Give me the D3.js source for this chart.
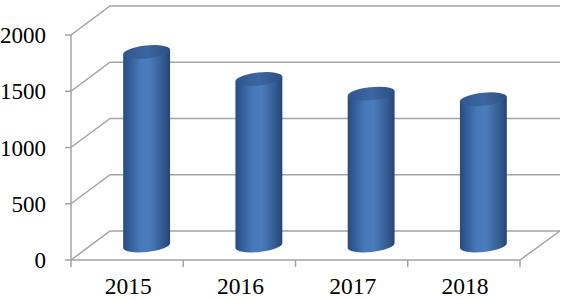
<!DOCTYPE html>
<html>
<head>
<meta charset="utf-8">
<script src="https://cdn.jsdelivr.net/npm/d3@7"></script>
<style>
  html, body { margin:0; padding:0; background:#fff; }
  svg { display:block; }
  text { font-family: 'Liberation Serif', 'DejaVu Serif', serif; fill: #000; }
</style>
</head>
<body>
<div id="chart"></div>
<script>
// Data
const years = ['2015', '2016', '2017', '2018'];
const values = [1720, 1480, 1350, 1300];
const yTicks = [0, 500, 1000, 1500, 2000];

const W = 565, H = 300;
const depth = { dx: 39, dy: -29 };   // 3D wall offset
const gridColor = '#a3a3a3';
const tilt = -6;                      // ellipse tilt in degrees

const svg = d3.select('#chart').append('svg').attr('width', W).attr('height', H);

const y = d3.scaleLinear().domain([0, 2000]).range([260, 35]);
const x = d3.scaleBand().domain(years).range([71, 520]).padding(0);

// gradient for cylinder body
const defs = svg.append('defs');
const grad = defs.append('linearGradient').attr('id', 'cyl').attr('x1', 0).attr('x2', 1).attr('y1', 0).attr('y2', 0);
[[0, '#284b82'], [0.35, '#4677b7'], [0.55, '#4b7dbe'], [0.85, '#345a91'], [1, '#254475']]
  .forEach(([o, c]) => grad.append('stop').attr('offset', o).attr('stop-color', c));
const gradTop = defs.append('linearGradient').attr('id', 'cylTop').attr('x1', 0).attr('x2', 1).attr('y1', 0).attr('y2', 0);
[[0, '#2f5590'], [0.5, '#3d66a0'], [1, '#2c4f86']]
  .forEach(([o, c]) => gradTop.append('stop').attr('offset', o).attr('stop-color', c));

// back wall gridlines (diagonal on left wall + horizontal on back wall)
const x0 = x.range()[0], x1 = x.range()[1];
const backRight = 560;
const grid = svg.append('g').attr('fill', 'none').attr('stroke', gridColor).attr('stroke-width', 1.5);
yTicks.forEach(t => {
  grid.append('path').attr('d',
    `M${x0},${y(t)} L${x0 + depth.dx},${y(t) + depth.dy} L${backRight},${y(t) + depth.dy}`);
});
// floor right edge and front edge
grid.append('path').attr('d', `M${backRight},${y(0) + depth.dy} L${x1},${y(0)} L${x0},${y(0)}`);

// y axis line and ticks
const axis = svg.append('g').attr('stroke', gridColor).attr('stroke-width', 1.5);
axis.append('line').attr('x1', x0).attr('x2', x0).attr('y1', y(2000)).attr('y2', y(0) + 7);
yTicks.forEach(t => axis.append('line').attr('x1', x0 - 6).attr('x2', x0).attr('y1', y(t)).attr('y2', y(t)));
// x ticks at category boundaries
years.forEach(d => {
  const bx = x(d) + x.bandwidth();
  axis.append('line').attr('x1', bx).attr('x2', bx).attr('y1', y(0)).attr('y2', y(0) + 7);
});

// y labels
svg.append('g').selectAll('text').data(yTicks).join('text')
  .attr('x', 46).attr('y', d => y(d)).attr('dy', '0.35em')
  .attr('text-anchor', 'end').attr('font-size', 23)
  .text(d => d);

// x labels
svg.append('g').selectAll('text').data(years).join('text')
  .attr('x', d => x(d) + x.bandwidth() / 2 + 1).attr('y', 294)
  .attr('text-anchor', 'middle').attr('font-size', 23.5)
  .text(d => d);

// cylinders
const rx = x.bandwidth() * 0.21, ry = 6.5;
const rad = tilt * Math.PI / 180;
const ox = rx * Math.cos(rad), oy = rx * Math.sin(rad);
const cyl = svg.append('g').selectAll('g').data(years.map((d, i) => ({ year: d, v: values[i] }))).join('g');
cyl.each(function(d) {
  const g = d3.select(this);
  const cx = x(d.year) + x.bandwidth() / 2 + depth.dx / 2;
  const yb = y(0) + depth.dy / 2;
  const yt = y(d.v) + depth.dy / 2;
  g.append('path')
    .attr('d', `M${cx - ox},${yt - oy} L${cx - ox},${yb - oy} A${rx},${ry} ${tilt} 0 0 ${cx + ox},${yb + oy} L${cx + ox},${yt + oy} Z`)
    .attr('fill', 'url(#cyl)');
  g.append('ellipse').attr('cx', cx).attr('cy', yt).attr('rx', rx).attr('ry', ry)
    .attr('transform', `rotate(${tilt},${cx},${yt})`)
    .attr('fill', 'url(#cylTop)');
});
</script>
</body>
</html>
